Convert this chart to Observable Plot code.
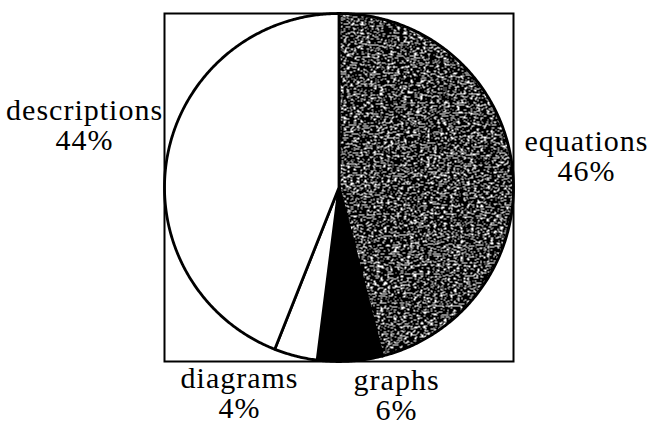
<!DOCTYPE html>
<html><head><meta charset="utf-8">
<script src="https://cdn.jsdelivr.net/npm/d3@7"></script>
<script src="https://cdn.jsdelivr.net/npm/@observablehq/plot@0.6"></script>
<style>body{margin:0;background:#fff} svg text{letter-spacing:1px}</style>
</head><body><div id="chart"></div>
<script>
// Data
const categories = ["equations", "graphs", "diagrams", "descriptions"];
const percents = [46, 6, 4, 44];
const percentLabels = ["46%", "6%", "4%", "44%"];

// Label anchor positions (in the chart's data units), separate from data
const labelAnchor = {
  equations: [1.418, 0.040],
  graphs: [0.330, -1.339],
  diagrams: [-0.570, -1.322],
  descriptions: [-1.458, 0.218]
};

const table = categories.map((name, i) => ({name, value: percents[i], label: percentLabels[i]}));

const arcs = d3.pie().sort(null).value(d => d.value)(table);
const pts = [];
for (const s of arcs) {
  const name = s.data.name;
  pts.push({name, x: 0, y: 0});
  const n = Math.max(2, Math.ceil((s.endAngle - s.startAngle) / (Math.PI / 360)));
  for (let i = 0; i <= n; i++) {
    const a = s.startAngle + (s.endAngle - s.startAngle) * i / n;
    pts.push({name, x: Math.sin(a), y: Math.cos(a)});
  }
  pts.push({name, x: 0, y: 0});
}

const chart = Plot.plot({
  width: 651, height: 426,
  marginLeft: 164, marginRight: 138, marginTop: 13, marginBottom: 65,
  x: {domain: [-1, 1], axis: null},
  y: {domain: [-1, 1], axis: null},
  color: {domain: categories, range: ["url(#tex)", "black", "white", "white"]},
  style: {fontFamily: "'Liberation Serif', 'DejaVu Serif', serif", background: "white", overflow: "visible"},
  marks: [
    Plot.line(pts, {x: "x", y: "y", z: "name", fill: "name", stroke: "black", strokeWidth: 2.8, strokeLinejoin: "round"}),
    Plot.frame({stroke: "black", strokeWidth: 2}),
    Plot.text(table, {
      x: d => labelAnchor[d.name][0],
      y: d => labelAnchor[d.name][1],
      text: d => `${d.name}\n${d.label}`,
      fontSize: 30, lineAnchor: "bottom", lineHeight: 1, fill: "black", textAnchor: "middle"
    })
  ]
});

d3.select(chart).insert("defs", ":first-child").html(`
  <filter id="noise" x="0" y="0" width="100%" height="100%">
    <feTurbulence type="fractalNoise" baseFrequency="0.3 0.9" numOctaves="2" seed="7"/>
    <feColorMatrix type="saturate" values="0"/>
    <feComponentTransfer>
      <feFuncR type="discrete" tableValues="0 0 0 0 0 0 0 0 0 0 0 1 1 1 1 1 1 1 1 1"/>
      <feFuncG type="discrete" tableValues="0 0 0 0 0 0 0 0 0 0 0 1 1 1 1 1 1 1 1 1"/>
      <feFuncB type="discrete" tableValues="0 0 0 0 0 0 0 0 0 0 0 1 1 1 1 1 1 1 1 1"/>
      <feFuncA type="linear" slope="0" intercept="1"/>
    </feComponentTransfer>
  </filter>
  <pattern id="tex" patternUnits="userSpaceOnUse" x="0" y="0" width="651" height="426">
    <rect width="651" height="426" fill="#777" filter="url(#noise)"/>
  </pattern>
`);

document.getElementById("chart").appendChild(chart);
</script>
</body></html>
